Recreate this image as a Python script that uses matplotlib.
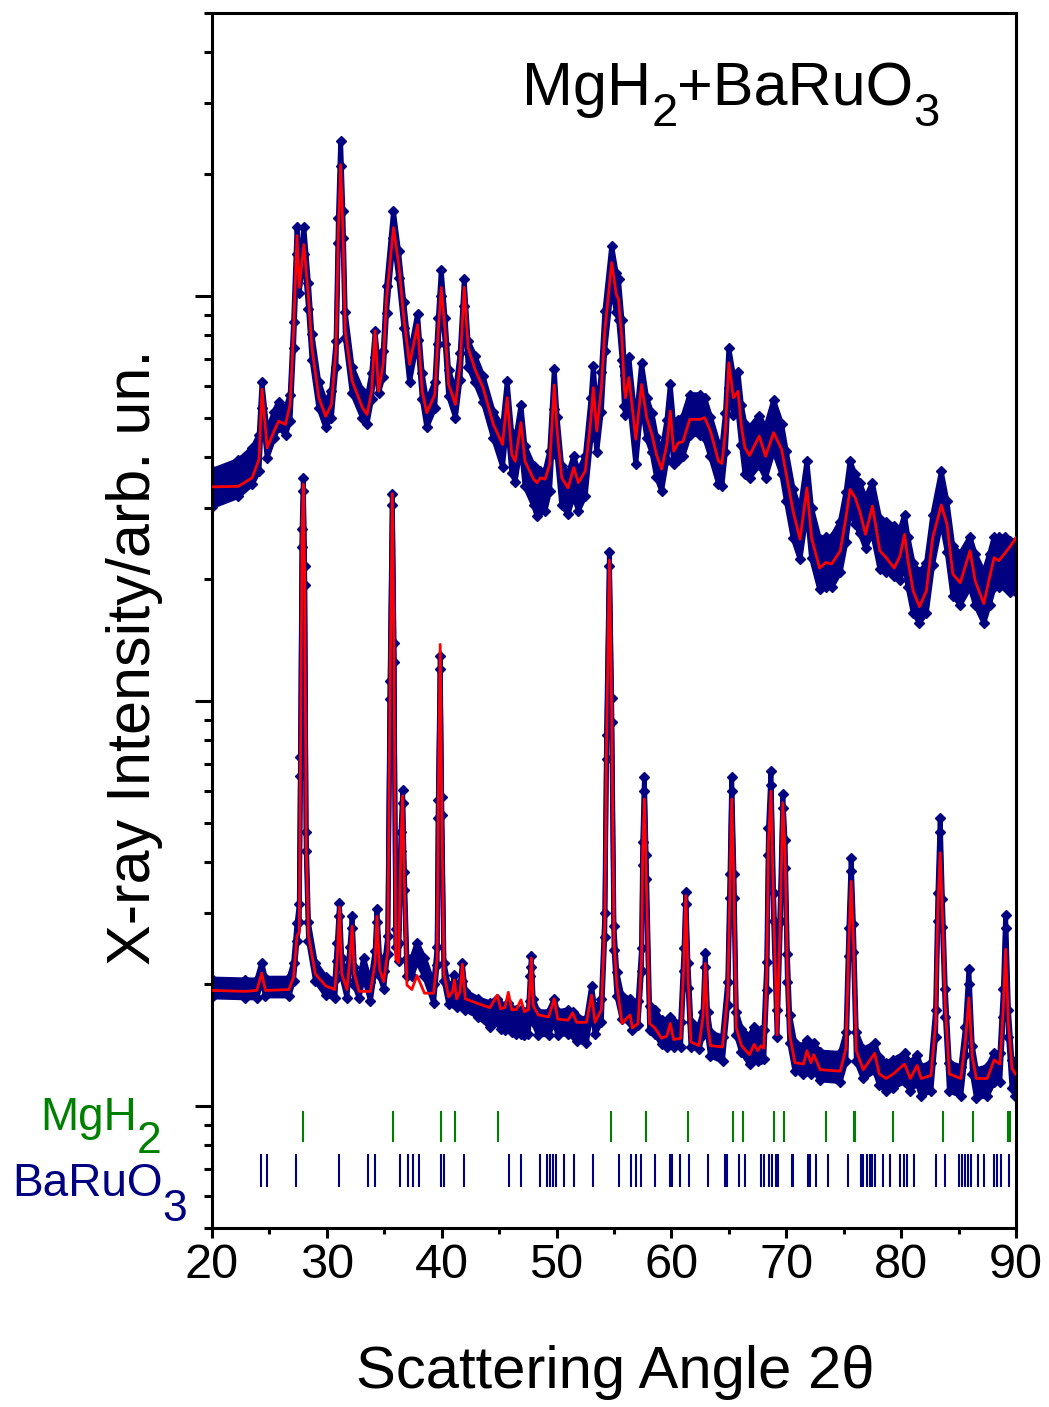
import matplotlib
matplotlib.use('Agg')
import matplotlib.pyplot as plt
import matplotlib.transforms as mtransforms
from matplotlib.ticker import MultipleLocator, LogLocator, NullFormatter

plt.rcParams['font.family'] = ['Liberation Sans', 'DejaVu Sans']

# upper pattern (milled sample): 2theta, calculated curve, observed band (upper/lower edge)
up_x = [20.0, 22.3, 23.5, 24.1, 24.35, 24.8, 25.4, 25.8, 26.4, 26.8, 27.1, 27.4, 27.6, 28.0, 28.4,
        28.7, 29.3, 29.9, 30.4, 30.8, 31.0, 31.2, 31.4, 31.6, 32.2, 33.1, 33.5, 33.9, 34.2, 34.5,
        34.9, 35.2, 35.8, 36.25, 36.7, 37.2, 37.9, 38.3, 38.7, 39.4, 39.7, 39.96, 40.3, 40.6, 41.2,
        41.6, 41.96, 42.3, 42.9, 43.6, 44.5, 45.3, 45.7, 46.1, 46.4, 46.9, 47.25, 48.0, 48.3, 48.6,
        49.0, 49.4, 49.8, 50.05, 50.45, 51.0, 51.5, 51.9, 52.5, 53.0, 53.2, 53.5, 53.9, 54.2, 54.8,
        55.2, 55.4, 55.7, 55.9, 56.0, 56.3, 56.9, 57.4, 57.85, 58.3, 58.7, 59.15, 59.6, 59.9, 60.2,
        60.6, 61.0, 61.6, 62.5, 62.9, 63.4, 64.1, 64.4, 64.7, 65.0, 65.4, 65.8, 66.1, 66.4, 66.8,
        67.65, 68.2, 68.9, 69.6, 70.0, 70.6, 71.2, 71.8, 72.2, 72.9, 73.45, 73.95, 74.7, 75.2, 75.55,
        76.0, 76.4, 76.9, 77.5, 78.15, 78.7, 79.4, 79.9, 80.3, 80.6, 81.05, 81.6, 82.2, 82.75, 83.5,
        84.0, 84.5, 85.15, 86.0, 86.45, 87.2, 87.7, 88.1, 88.5, 89.05, 89.5, 90.0]
up_calc = [33.8, 33.9, 35.6, 39.6, 58.9, 42.2, 46.4, 49.1, 48.2, 54.0, 82, 141, 105, 134, 99,
           74.5, 56.1, 50.5, 54, 74.5, 145, 211, 145, 82, 61.7, 53, 51, 58.2, 82, 58.2,
           67.8, 99, 147.5, 120, 88.4, 67.8, 85, 58.2, 51.5, 57.1, 82, 105, 82, 60.5, 54,
           67.8, 105, 74.5, 65.9, 59.4, 48.2, 43, 56.1, 40.6, 39.1, 48.7, 39.1, 35.3, 34.6, 35.6,
           35.3, 38.4, 60.3, 46.4, 35.6, 33.6, 37.7, 34.6, 37, 50.1, 59.4, 46.4, 59.4, 82, 121,
           101, 98, 77.4, 59.4, 56.1, 62.9, 44.3, 60.5, 50.1, 45.5, 40.6, 37.4, 43, 52, 41.4,
           43.4, 43.7, 49.6, 49.6, 50.1, 46.4, 39.1, 38.6, 46.4, 68.4, 56.1, 58.2, 47.5, 42.2, 40.4,
           45.1, 40.2, 46, 41.8, 36.3, 29.4, 25.1, 33.6, 25.3, 21.3, 22, 21.8, 23.5, 28.4, 33.3,
           31.8, 29.4, 25.8, 30.3, 23.5, 22.6, 21.3, 22.8, 25.8, 22.2, 18.7, 17.1, 18.7, 25.3, 30.5,
           27.3, 20.6, 19.6, 23.5, 19.8, 17.4, 20.2, 22.6, 22.2, 23.2, 24.1, 25.3]
up_obs_hi = [37.1, 39.3, 42.1, 45.4, 61.4, 46.3, 51.7, 54.9, 52.8, 57.1, 86.2, 148, 118, 148, 108,
             80.8, 61.4, 54.9, 58.2, 77.5, 156, 242, 162, 91.5, 66.8, 58.2, 56.0, 64.6, 81.9, 66.8,
             73.2, 106, 162, 129, 96.9, 71.1, 90.5, 64.6, 54.9, 61.4, 88.3, 116, 88.3, 65.7, 58.2,
             72.2, 110, 77.5, 71.1, 63.5, 51.7, 47.6, 61.6, 45.9, 43.7, 53.8, 42.6, 38.1, 35.8, 37.0,
             37.0, 41.4, 66.1, 50.4, 38.1, 36.4, 40.3, 37.0, 40.3, 56.0, 67.2, 51.5, 65.0, 91.8, 133,
             114, 110, 87.4, 67.2, 63.8, 70.6, 48.2, 68.3, 56.0, 51.5, 44.8, 41.4, 49.3, 60.5, 48.2,
             49.3, 50.4, 57.1, 57.1, 56.0, 50.4, 43.1, 42.6, 51.5, 74.5, 63.8, 65.0, 53.8, 48.4, 47.3,
             50.7, 47.3, 55.3, 48.4, 41.5, 33.4, 29.7, 39.2, 30.0, 25.1, 25.4, 25.4, 27.7, 32.9, 39.2,
             36.3, 34.6, 31.7, 34.6, 28.2, 27.7, 27.1, 26.5, 28.8, 25.4, 21.9, 20.8, 21.9, 28.8, 36.9,
             31.1, 24.2, 23.1, 25.4, 23.1, 20.8, 23.1, 25.4, 25.4, 25.4, 24.8, 24.8]
up_obs_lo = [30.2, 32.0, 34.3, 37.0, 52.9, 39.9, 44.6, 47.4, 45.5, 49.2, 74.3, 127, 102, 127, 92.9,
             69.6, 52.9, 47.4, 50.1, 66.9, 135, 209, 139, 78.9, 57.6, 50.1, 48.3, 55.7, 70.6, 57.6,
             63.1, 91.0, 139, 111, 83.6, 61.3, 78.0, 55.7, 47.4, 52.9, 76.1, 100, 76.1, 56.6, 50.1,
             62.2, 94.7, 66.9, 61.3, 54.8, 44.6, 37.9, 49.1, 36.6, 34.8, 42.9, 33.9, 30.4, 28.6, 29.5,
             29.5, 33.0, 52.7, 40.2, 30.4, 29.0, 32.1, 29.5, 32.1, 44.6, 53.6, 41.1, 51.8, 73.2, 106,
             91.1, 87.5, 69.6, 53.6, 50.9, 56.3, 38.4, 54.5, 44.6, 41.1, 35.7, 33.0, 39.3, 48.2, 38.4,
             39.3, 40.2, 45.5, 45.5, 44.6, 40.2, 34.4, 33.9, 41.1, 59.4, 50.9, 51.8, 42.9, 36.4, 35.6,
             38.2, 35.6, 41.6, 36.4, 31.2, 25.2, 22.4, 29.5, 22.5, 18.9, 19.1, 19.1, 20.8, 24.7, 29.5,
             27.3, 26.0, 23.9, 26.0, 21.2, 20.8, 20.4, 19.9, 21.7, 19.1, 16.5, 15.6, 16.5, 21.7, 27.8,
             23.4, 18.2, 17.3, 19.1, 17.3, 15.6, 17.3, 19.1, 19.1, 19.1, 18.6, 18.6]

# lower pattern (reference sample)
low_x = [20.0, 22.9, 23.9, 24.33, 24.65, 26.7, 27.1, 27.4, 27.6, 27.7, 27.84, 27.95, 28.07, 28.2, 28.4,
         29.0, 29.9, 30.7, 30.9, 31.1, 31.3, 31.75, 32.0, 32.2, 32.4, 32.8, 33.2, 33.8, 34.2, 34.36,
         34.6, 34.95, 35.3, 35.5, 35.7, 35.85, 36.0, 36.25, 36.45, 36.6, 36.75, 36.97, 37.4, 37.85, 38.5,
         39.3, 39.6, 39.7, 39.87, 40.0, 40.2, 40.6, 40.95, 41.1, 41.3, 41.6, 41.8, 42.05, 43.2, 44.2,
         44.84, 45.13, 45.5, 45.8, 46.1, 46.5, 46.9, 47.2, 47.55, 47.7, 47.8, 47.97, 48.4, 49.3, 49.8,
         50.1, 51.0, 51.4, 51.75, 52.6, 53.05, 53.35, 53.9, 54.2, 54.35, 54.6, 54.8, 55.0, 55.25, 55.7,
         56.4, 56.6, 57.1, 57.4, 57.5, 57.65, 57.8, 58.1, 58.55, 59.15, 59.6, 59.9, 60.2, 60.8, 61.1,
         61.25, 61.45, 61.7, 62.4, 62.75, 62.95, 63.15, 63.4, 64.45, 64.9, 65.1, 65.25, 65.45, 65.65, 66.1,
         66.8, 67.2, 67.5, 67.8, 68.05, 68.3, 68.45, 68.67, 68.9, 69.2, 69.5, 69.7, 69.9, 70.1, 70.3,
         70.75, 71.5, 71.8, 72.15, 72.4, 72.95, 74.7, 75.2, 75.45, 75.65, 75.85, 76.1, 76.7, 77.7, 78.1,
         78.7, 79.3, 80.3, 80.8, 81.4, 81.75, 82.6, 83.0, 83.2, 83.4, 83.6, 83.85, 84.2, 85.2, 85.6,
         85.9, 86.2, 86.55, 87.5, 88.1, 88.6, 88.9, 89.1, 89.35, 89.65, 89.95]
low_calc = [1.93, 1.92, 1.93, 2.13, 1.93, 1.94, 2.08, 2.63, 2.69, 6.87, 25.3, 34.3, 20.4, 4.44, 2.63,
            2.12, 1.98, 1.94, 2.31, 3.10, 2.12, 1.94, 2.31, 2.78, 2.12, 1.92, 1.92, 1.92, 2.26, 2.94,
            2.17, 2.03, 2.41, 10.6, 32.5, 13.2, 2.31, 2.26, 4.44, 5.83, 3.57, 1.99, 1.94, 2.10, 1.90,
            1.90, 2.31, 5.52, 13.8, 5.52, 2.12, 1.86, 1.92, 2.05, 1.84, 1.92, 2.24, 1.84, 1.79, 1.75,
            1.88, 1.74, 1.75, 1.91, 1.73, 1.73, 1.83, 1.71, 1.73, 2.03, 2.32, 1.77, 1.68, 1.66, 1.84,
            1.64, 1.63, 1.70, 1.61, 1.61, 1.88, 1.61, 1.73, 2.82, 7.77, 22.3, 9.5, 2.55, 1.99, 1.60,
            1.68, 1.56, 1.60, 2.30, 4.23, 5.73, 3.82, 1.60, 1.56, 1.47, 1.49, 1.60, 1.46, 1.47, 2.30,
            3.31, 2.08, 1.44, 1.41, 1.66, 2.25, 1.60, 1.41, 1.40, 1.88, 3.45, 5.73, 3.45, 1.56, 1.41,
            1.34, 1.42, 1.37, 1.41, 1.39, 2.11, 4.51, 5.99, 3.09, 1.50, 3.09, 5.61, 4.18, 2.11, 1.50,
            1.28, 1.27, 1.37, 1.28, 1.34, 1.23, 1.22, 1.39, 2.56, 3.59, 2.56, 1.37, 1.23, 1.35, 1.20,
            1.17, 1.20, 1.27, 1.17, 1.26, 1.17, 1.19, 1.59, 3.09, 4.22, 2.97, 1.75, 1.20, 1.17, 1.45,
            1.85, 1.32, 1.17, 1.17, 1.30, 1.27, 1.75, 2.44, 1.59, 1.24, 1.20]
low_obs_hi = [2.06, 2.05, 2.05, 2.26, 2.07, 2.07, 2.26, 2.83, 3.16, 7.27, 26.6, 35.5, 21.5, 4.74, 2.84,
              2.26, 2.08, 2.05, 2.53, 3.17, 2.32, 2.05, 2.47, 2.94, 2.21, 2.05, 2.32, 2.02, 2.42, 3.07,
              2.32, 2.16, 2.63, 11.2, 32.5, 13.9, 2.74, 2.53, 4.74, 6.03, 3.79, 2.32, 2.32, 2.53, 2.32,
              2.0, 2.47, 5.69, 12.9, 5.79, 2.26, 1.98, 2.0, 2.11, 1.95, 2.0, 2.26, 1.92, 1.84, 1.80,
              1.84, 1.78, 1.77, 1.80, 1.74, 1.73, 1.73, 1.71, 1.73, 2.09, 2.35, 1.84, 1.71, 1.71, 1.84,
              1.71, 1.73, 1.71, 1.66, 1.64, 1.98, 1.73, 1.84, 3.0, 8.24, 23.3, 10.2, 2.78, 2.14, 1.87,
              1.84, 1.77, 1.82, 2.46, 4.49, 6.48, 4.17, 1.77, 1.73, 1.63, 1.61, 1.66, 1.61, 1.61, 2.46,
              3.38, 2.25, 1.61, 1.58, 1.71, 2.39, 1.71, 1.52, 1.48, 2.03, 3.75, 6.48, 3.75, 1.71, 1.55,
              1.49, 1.57, 1.52, 1.54, 1.54, 2.27, 4.87, 6.72, 3.36, 1.73, 3.36, 5.88, 4.55, 2.38, 1.68,
              1.43, 1.41, 1.46, 1.41, 1.43, 1.36, 1.35, 1.52, 2.76, 4.10, 2.82, 1.52, 1.38, 1.43, 1.32,
              1.28, 1.30, 1.35, 1.28, 1.34, 1.25, 1.28, 1.73, 3.36, 5.15, 3.25, 1.95, 1.28, 1.25, 1.57,
              2.18, 1.41, 1.23, 1.25, 1.35, 1.35, 1.95, 2.97, 1.73, 1.30, 1.25]
low_obs_lo = [1.86, 1.85, 1.85, 2.04, 1.87, 1.87, 2.04, 2.55, 2.85, 6.55, 24.0, 33.0, 19.4, 4.27, 2.56,
              2.04, 1.88, 1.85, 2.28, 2.95, 2.09, 1.85, 2.23, 2.75, 1.99, 1.85, 2.09, 1.82, 2.18, 2.85,
              2.09, 1.95, 2.37, 10.1, 30.5, 12.5, 2.47, 2.28, 4.27, 5.6, 3.42, 2.09, 2.09, 2.28, 2.09,
              1.8, 2.23, 5.13, 12.0, 5.22, 2.04, 1.79, 1.8, 1.9, 1.76, 1.8, 2.04, 1.73, 1.66, 1.57,
              1.61, 1.55, 1.54, 1.57, 1.52, 1.51, 1.51, 1.50, 1.51, 1.82, 2.2, 1.61, 1.50, 1.50, 1.61,
              1.50, 1.51, 1.50, 1.45, 1.43, 1.73, 1.51, 1.61, 2.62, 7.2, 21.5, 8.88, 2.43, 1.87, 1.64,
              1.61, 1.54, 1.59, 2.15, 3.93, 6.0, 3.64, 1.54, 1.51, 1.42, 1.40, 1.45, 1.40, 1.40, 2.15,
              3.15, 1.96, 1.40, 1.38, 1.50, 2.2, 1.50, 1.33, 1.29, 1.78, 3.27, 6.0, 3.27, 1.50, 1.36,
              1.27, 1.34, 1.29, 1.31, 1.31, 1.94, 4.16, 6.2, 2.86, 1.48, 2.86, 5.45, 3.88, 2.03, 1.43,
              1.22, 1.20, 1.25, 1.20, 1.22, 1.16, 1.15, 1.29, 2.35, 3.8, 2.40, 1.29, 1.17, 1.22, 1.13,
              1.09, 1.11, 1.15, 1.09, 1.14, 1.06, 1.09, 1.48, 2.86, 4.75, 2.77, 1.66, 1.09, 1.06, 1.34,
              2.0, 1.20, 1.05, 1.06, 1.15, 1.15, 1.66, 2.75, 1.48, 1.11, 1.06]

# Bragg reflection positions
mgh2_pos = [27.95, 35.8, 39.96, 41.16, 44.91, 54.7, 57.8, 61.45, 65.38, 66.21, 68.89, 69.81,
            73.42, 75.88, 75.98, 79.33, 83.63, 86.22, 89.35, 89.45]
baruo3_pos = [24.25, 24.76, 27.30, 31.09, 33.54, 34.19, 36.36, 37.10, 37.47, 37.98, 39.96, 40.19,
              41.90, 45.83, 46.94, 48.60, 49.21, 49.44, 49.71, 49.99, 50.68, 51.52, 53.13, 55.44,
              56.46, 56.92, 57.38, 58.59, 59.88, 60.06, 60.76, 61.50, 63.16, 64.69, 64.87, 65.89,
              66.40, 67.83, 68.06, 68.48, 68.75, 69.08, 69.31, 70.51, 70.60, 71.85, 72.08, 72.63,
              73.60, 75.41, 76.52, 76.70, 77.07, 77.26, 77.49, 77.72, 78.46, 79.01, 79.94, 80.21,
              80.54, 81.09, 83.08, 83.86, 85.06, 85.34, 85.57, 85.80, 86.08, 86.73, 87.24, 88.11,
              88.39, 88.71, 89.36]

navy = '#000080'
green = '#008000'
W, H = 1049, 1407

fig = plt.figure(figsize=(W / 100, H / 100), dpi=100)
ax = fig.add_axes([0.2021, 0.1272, 0.7664, 0.8636])


def draw_obs(x, lo, hi):
    ax.fill_between(x, lo, hi, color=navy, lw=0, zorder=2)
    for edge in (lo, hi):
        ax.plot(x, edge, color=navy, lw=3.5, zorder=2)
        ax.plot(x, edge, 'D', color=navy, ms=5, zorder=2)


draw_obs(up_x, up_obs_lo, up_obs_hi)
ax.plot(up_x, up_calc, color='red', lw=2, zorder=3)
draw_obs(low_x, low_obs_lo, low_obs_hi)
ax.plot(low_x, low_calc, color='red', lw=2, zorder=3)

trans = mtransforms.blended_transform_factory(ax.transData, ax.transAxes)
ax.vlines(mgh2_pos, 0.0705, 0.0966, transform=trans, colors=green, lw=1.5)
ax.vlines(baruo3_pos, 0.034, 0.0609, transform=trans, colors=navy, lw=1.5)

ax.set_xlim(20, 90)
ax.set_yscale('log')
ax.set_ylim(0.5, 500)
ax.xaxis.set_major_locator(MultipleLocator(10))
ax.xaxis.set_minor_locator(MultipleLocator(5))
ax.yaxis.set_major_locator(LogLocator(base=10))
ax.yaxis.set_minor_locator(LogLocator(base=10, subs=[2, 3, 4, 5, 6, 7, 8, 9]))
ax.yaxis.set_major_formatter(NullFormatter())
ax.yaxis.set_minor_formatter(NullFormatter())

for s in ax.spines.values():
    s.set_linewidth(2.2)
ax.tick_params(axis='both', which='both', direction='out', top=False, right=False, width=2.2)
ax.tick_params(axis='y', which='major', length=12)
ax.tick_params(axis='y', which='minor', length=5.5)
ax.tick_params(axis='x', which='major', length=7, labelsize=35, pad=4)
ax.tick_params(axis='x', which='minor', length=4)

fig.text(135 / W, 1 - 657 / H, 'X-ray Intensity/arb. un.', rotation=90,
         fontsize=44, ha='center', va='center')
fig.text(615 / W, 1 - 1373 / H, 'Scattering Angle 2\u03b8', fontsize=43,
         ha='center', va='center')

renderer = fig.canvas.get_renderer()


def formula(x_px, y_px, parts, size, sub_size, drop, color):
    # chemical formula with large, well-lowered subscripts
    x = x_px
    for txt, is_sub in parts:
        y = y_px + (drop if is_sub else 0)
        t = fig.text(x / W, 1 - y / H, txt, fontsize=sub_size if is_sub else size,
                     color=color, va='baseline')
        x = t.get_window_extent(renderer).x1


formula(522, 105, [('MgH', False), ('2', True), ('+BaRuO', False), ('3', True)],
        44, 34, 21, 'black')
formula(40, 1130, [('MgH', False), ('2', True)], 33, 32, 23, green)
formula(12, 1196, [('BaRuO', False), ('3', True)], 33, 32, 25, navy)

fig.savefig('out.png', dpi=100)
